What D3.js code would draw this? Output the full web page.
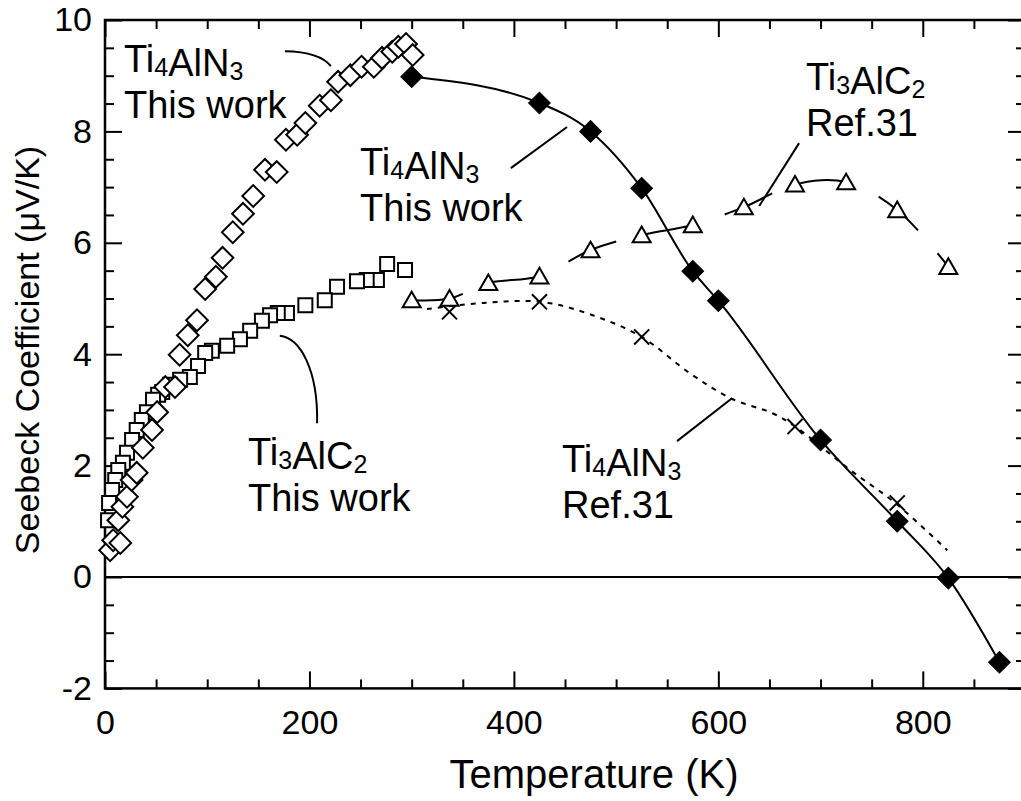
<!DOCTYPE html>
<html>
<head>
<meta charset="utf-8">
<script src="https://cdn.jsdelivr.net/npm/d3@7"></script>
<style>
  body { margin: 0; background: #fff; }
  text { font-family: "Liberation Sans", Arial, sans-serif; }
</style>
</head>
<body>
<svg id="chart" width="1021" height="801"></svg>
<script>
// Ti4AlN3, this work, low temperature (open diamonds)
var nLowT = [5, 8, 13, 15, 17, 21.5, 26, 31, 37, 46, 51, 59, 68.5, 73, 81, 90, 98, 108.5, 115,
             125, 135, 145, 156.5, 168, 177, 188, 196, 210, 221, 228, 240, 251, 263, 271, 281, 287, 294.5, 301];
var nLowS = [0.48, 0.66, 1.02, 0.61, 1.26, 1.44, 1.74, 1.87, 2.32, 2.64, 2.96, 3.41, 3.41, 3.99, 4.34, 4.61, 5.17, 5.39, 5.73,
             6.19, 6.52, 6.84, 7.31, 7.27, 7.85, 7.94, 8.15, 8.46, 8.56, 8.89, 9.01, 9.16, 9.16, 9.32, 9.43, 9.52, 9.57, 9.37];

// Ti4AlN3, this work, high temperature (filled diamonds)
var nHighT = [300, 425, 475, 525, 575, 600, 700, 775, 825, 875];
var nHighS = [8.98, 8.51, 8.0, 6.98, 5.49, 4.96, 2.46, 1.0, -0.02, -1.53];

// Ti3AlC2, this work (open squares)
var cLowT = [3, 4, 7, 10, 13, 17.5, 21.5, 26.5, 31, 36, 41, 47, 52, 56, 63.5, 73.5, 83, 91, 98, 104.5,
             119.5, 132, 142, 153.5, 161.5, 169, 178, 196, 215, 227, 246.5, 256, 266, 276, 293.5];
var cLowS = [1.02, 1.33, 1.56, 1.74, 1.92, 2.05, 2.23, 2.46, 2.64, 2.82, 2.96, 3.18, 3.27, 3.32, 3.45, 3.54, 3.59, 3.79, 4.02, 4.06,
             4.15, 4.27, 4.42, 4.60, 4.70, 4.74, 4.74, 4.88, 4.97, 5.21, 5.31, 5.33, 5.33, 5.62, 5.51];

// Ti3AlC2, Ref.31 (open triangles, long dashes)
var cRefT = [300, 337, 375, 425, 475, 525, 575, 625, 675, 725, 775, 825];
var cRefS = [4.97, 5.0, 5.28, 5.40, 5.87, 6.14, 6.32, 6.64, 7.05, 7.09, 6.59, 5.57];

// Ti4AlN3, Ref.31 (crosses) and the dotted curve drawn through them
var nRefT = [337, 425, 525, 675, 775];
var nRefS = [4.76, 4.94, 4.31, 2.70, 1.33];
var nRefCurveT = [315, 370, 427, 477, 525, 572, 613, 653, 676, 729, 773, 824];
var nRefCurveS = [4.81, 4.92, 4.94, 4.70, 4.31, 3.66, 3.20, 2.94, 2.69, 1.92, 1.33, 0.48];

// axis ticks
var xMajor = [0, 200, 400, 600, 800];
var xMinor = [50, 100, 150, 250, 300, 350, 450, 500, 550, 650, 700, 750, 850];
var yMajor = [-2, 0, 2, 4, 6, 8, 10];
var yMinor = [-1.5, -1, -0.5, 0.5, 1, 1.5, 2.5, 3, 3.5, 4.5, 5, 5.5, 6.5, 7, 7.5, 8.5, 9, 9.5];

var svg = d3.select("#chart");

var x = d3.scaleLinear().domain([0, 900]).range([105, 1025]);
var y = d3.scaleLinear().domain([-2, 10]).range([688.4, 20]);

function zip(a, b) { return a.map(function (d, i) { return [d, b[i]]; }); }

// ---- axes (ticks point inward on all four sides)
function addAxis(axisFn, values, size, labels, transform) {
    var scale = (axisFn === d3.axisBottom || axisFn === d3.axisTop) ? x : y;
    var g = svg.append("g")
        .attr("transform", transform)
        .call(axisFn(scale).tickValues(values).tickSize(-size)
            .tickPadding(axisFn === d3.axisBottom ? 21 : 13)
            .tickFormat(function (d) { return labels ? String(d) : ""; }));
    g.select(".domain").remove();
    g.selectAll("line").attr("stroke", "#000").attr("stroke-width", 2);
    g.attr("font-family", null).attr("font-size", 34);
    g.selectAll("text").attr("fill", "#000");
}
addAxis(d3.axisBottom, xMajor, 17, true, "translate(0,688.4)");
addAxis(d3.axisBottom, xMinor, 9, false, "translate(0,688.4)");
addAxis(d3.axisTop, xMajor, 17, false, "translate(0,20)");
addAxis(d3.axisTop, xMinor, 9, false, "translate(0,20)");
addAxis(d3.axisLeft, yMajor, 17, true, "translate(105,0)");
addAxis(d3.axisLeft, yMinor, 9, false, "translate(105,0)");
addAxis(d3.axisRight, yMajor, 17, false, "translate(1025,0)");
addAxis(d3.axisRight, yMinor, 9, false, "translate(1025,0)");

svg.append("rect")
    .attr("x", x(0)).attr("y", y(10))
    .attr("width", x(900) - x(0)).attr("height", y(-2) - y(10))
    .attr("fill", "none").attr("stroke", "#000").attr("stroke-width", 2.5);

// zero line
svg.append("line")
    .attr("x1", x(0)).attr("x2", x(900))
    .attr("y1", y(0)).attr("y2", y(0))
    .attr("stroke", "#000").attr("stroke-width", 2);

// axis titles
svg.append("text")
    .attr("x", 594).attr("y", 788)
    .attr("text-anchor", "middle")
    .attr("font-size", 40)
    .text("Temperature (K)");

svg.append("text")
    .attr("transform", "translate(39,350) rotate(-90)")
    .attr("text-anchor", "middle")
    .attr("font-size", 34)
    .text("Seebeck Coefficient (\u03bcV/K)");

// ---- lines
var line = d3.line()
    .x(function (d) { return x(d[0]); })
    .y(function (d) { return y(d[1]); });

svg.append("path")
    .datum(zip(cRefT, cRefS))
    .attr("d", line.curve(d3.curveCatmullRom))
    .attr("fill", "none").attr("stroke", "#000").attr("stroke-width", 2)
    .attr("stroke-dasharray", "52,30");

svg.append("path")
    .datum(zip(nRefCurveT, nRefCurveS))
    .attr("d", line.curve(d3.curveCatmullRom))
    .attr("fill", "none").attr("stroke", "#000").attr("stroke-width", 2)
    .attr("stroke-dasharray", "5,6");

svg.append("path")
    .datum(zip(nHighT, nHighS))
    .attr("d", line.curve(d3.curveMonotoneX))
    .attr("fill", "none").attr("stroke", "#000").attr("stroke-width", 2);

// ---- markers
var square = d3.symbol().type(d3.symbolSquare).size(196);
var diamond = d3.symbol().type(d3.symbolSquare).size(235);
var tri = d3.symbol().type(d3.symbolTriangle).size(140);
var cross = d3.symbol().type(d3.symbolX).size(150);

// squares drawn from high T to low T so each lower one covers the next
svg.append("g").selectAll("path")
    .data(zip(cLowT, cLowS).reverse())
    .enter().append("path")
    .attr("d", square)
    .attr("transform", function (d) { return "translate(" + x(d[0]) + "," + y(d[1]) + ")"; })
    .attr("fill", "#fff").attr("stroke", "#000").attr("stroke-width", 2);

svg.append("g").selectAll("path")
    .data(zip(nLowT, nLowS))
    .enter().append("path")
    .attr("d", diamond)
    .attr("transform", function (d) { return "translate(" + x(d[0]) + "," + y(d[1]) + ") rotate(45)"; })
    .attr("fill", "#fff").attr("stroke", "#000").attr("stroke-width", 2);

svg.append("g").selectAll("path")
    .data(zip(nRefT, nRefS))
    .enter().append("path")
    .attr("d", cross)
    .attr("transform", function (d) { return "translate(" + x(d[0]) + "," + y(d[1]) + ")"; })
    .attr("fill", "none").attr("stroke", "#000").attr("stroke-width", 2);

svg.append("g").selectAll("path")
    .data(zip(cRefT, cRefS))
    .enter().append("path")
    .attr("d", tri)
    .attr("transform", function (d) { return "translate(" + x(d[0]) + "," + (y(d[1]) + 2) + ")"; })
    .attr("fill", "#fff").attr("stroke", "#000").attr("stroke-width", 2);

svg.append("g").selectAll("path")
    .data(zip(nHighT, nHighS))
    .enter().append("path")
    .attr("d", diamond)
    .attr("transform", function (d) { return "translate(" + x(d[0]) + "," + y(d[1]) + ") rotate(45)"; })
    .attr("fill", "#000").attr("stroke", "#000").attr("stroke-width", 1);

// ---- annotations
function chemLabel(T, S, formula, second) {
    var t = svg.append("text")
        .attr("x", x(T)).attr("y", y(S))
        .attr("font-size", 38);
    formula.forEach(function (p) {
        if (p.sub) {
            t.append("tspan").attr("font-size", 25).attr("dy", 4).text(p.sub);
            t.append("tspan").attr("dy", -4).text("");
        } else {
            t.append("tspan").text(p.txt);
        }
    });
    svg.append("text")
        .attr("x", x(T)).attr("y", y(S) + 46)
        .attr("font-size", 38)
        .text(second);
}
var ti4 = [{txt: "Ti"}, {sub: "4"}, {txt: "AlN"}, {sub: "3"}];
var ti3 = [{txt: "Ti"}, {sub: "3"}, {txt: "AlC"}, {sub: "2"}];

chemLabel(18.6, 9.07, ti4, "This work");
chemLabel(249.5, 7.22, ti4, "This work");
chemLabel(685.8, 8.74, ti3, "Ref.31");
chemLabel(139.9, 2.01, ti3, "This work");
chemLabel(447.1, 1.89, ti4, "Ref.31");

function leader(d) {
    svg.append("path")
        .attr("d", d)
        .attr("fill", "none").attr("stroke", "#000").attr("stroke-width", 2);
}
leader("M" + x(176) + "," + y(9.44) + "Q" + x(210) + "," + y(9.43) + " " + x(221) + "," + y(9.17));
leader("M" + x(397) + "," + y(7.34) + "L" + x(452) + "," + y(8.08));
leader("M" + x(679) + "," + y(7.79) + "L" + x(640) + "," + y(6.66));
leader("M" + x(171) + "," + y(4.33) + "C" + x(191) + "," + y(4.29) + " " + x(208.5) + "," + y(3.72) + " " + x(207.5) + "," + y(2.76));
leader("M" + x(559.6) + "," + y(2.44) + "L" + x(613.4) + "," + y(3.21));
</script>
</body>
</html>
